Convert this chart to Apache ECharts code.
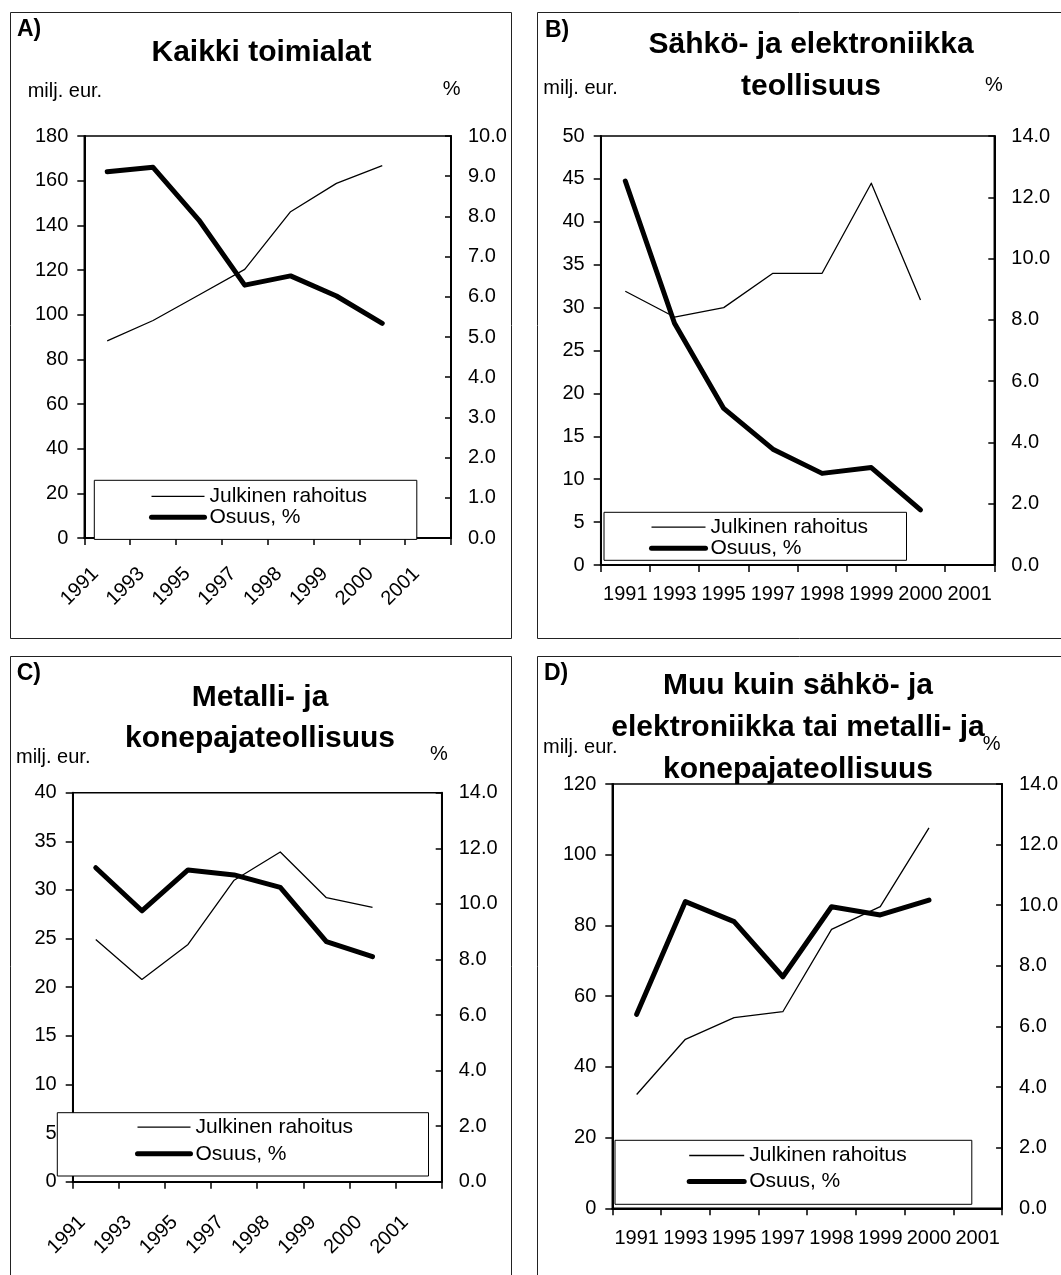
<!DOCTYPE html>
<html><head><meta charset="utf-8">
<script src="https://cdn.jsdelivr.net/npm/echarts@6/dist/echarts.min.js"></script>
<style>html,body{margin:0;padding:0;background:#fff}#c{width:1061px;height:1275px}</style>
</head><body><div id="c"></div>
<script>
// ---- data ----
const categories = ['1991', '1993', '1995', '1997', '1998', '1999', '2000', '2001'];
const seriesNames = ['Julkinen rahoitus', 'Osuus, %'];

const A_rahoitus = [88.3, 97.4, 108.8, 120.3, 146.1, 158.8, 166.7];
const A_osuus    = [9.11, 9.22, 7.91, 6.29, 6.52, 6.02, 5.34];

const B_rahoitus = [31.9, 28.9, 30.0, 34.0, 34.0, 44.5, 30.9];
const B_osuus    = [12.53, 7.89, 5.11, 3.78, 2.99, 3.18, 1.80];

const C_rahoitus = [24.9, 20.8, 24.4, 31.0, 33.9, 29.2, 28.2];
const C_osuus    = [11.30, 9.75, 11.22, 11.04, 10.59, 8.64, 8.10];

const D_rahoitus = [32.2, 47.8, 53.9, 55.6, 78.9, 85.3, 107.6];
const D_osuus    = [6.40, 10.12, 9.46, 7.64, 9.95, 9.68, 10.17];

const titleA = ['Kaikki toimialat'];
const titleB = ['Sähkö- ja elektroniikka', 'teollisuus'];
const titleC = ['Metalli- ja', 'konepajateollisuus'];
const titleD = ['Muu kuin sähkö- ja', 'elektroniikka tai metalli- ja', 'konepajateollisuus'];
const unitLeft = 'milj. eur.';
const unitRight = '%';

// ---- layout ----
const FF = '"Liberation Sans", Arial, Helvetica, sans-serif';
const panels = [
  { letter: 'A)', title: titleA, rah: A_rahoitus, os: A_osuus,
    box: [10, 12, 501, 626], grid: { left: 84.3, top: 136, width: 366.7, height: 402 },
    yl: { max: 180, interval: 20 }, yr: { max: 10, interval: 1 },
    rotate: true, xMargin: 21, xPad: 16.5,
    legend: { box: [94.3, 480.3, 414.3, 534], lineStart: 149, itemWidth: 53, row1: 495, row2: 513.3 },
    letterPos: [17, 30], titleX: 261.5, titleY: [52.5],
    unitL: [27.7, 91], unitR: [442.7, 89.7] },
  { letter: 'B)', title: titleB, rah: B_rahoitus, os: B_osuus,
    box: [537, 12, 600, 626], grid: { left: 600.7, top: 136, width: 393.6, height: 429 },
    yl: { max: 50, interval: 5 }, yr: { max: 14, interval: 2 },
    rotate: false, xMargin: 19,
    legend: { box: [604, 512.3, 904, 558.3], lineStart: 649, itemWidth: 54, row1: 526.7, row2: 546.7 },
    letterPos: [545, 30.5], titleX: 811, titleY: [44.3, 87],
    unitL: [543.3, 88], unitR: [985, 85.7] },
  { letter: 'C)', title: titleC, rah: C_rahoitus, os: C_osuus,
    box: [10, 656, 501, 700], grid: { left: 72.7, top: 792.7, width: 369, height: 389 },
    yl: { max: 40, interval: 5 }, yr: { max: 14, interval: 2 },
    rotate: true, xMargin: 24, xPad: 19,
    legend: { box: [57.3, 1112.7, 426, 1174], lineStart: 135, itemWidth: 53, row1: 1126.7, row2: 1152.3 },
    letterPos: [16.7, 674], titleX: 260, titleY: [697.5, 739],
    unitL: [16, 757.5], unitR: [430, 754] },
  { letter: 'D)', title: titleD, rah: D_rahoitus, os: D_osuus,
    box: [537, 656, 600, 700], grid: { left: 612.3, top: 784, width: 391.4, height: 424.3 },
    yl: { max: 120, interval: 20 }, yr: { max: 14, interval: 2 },
    rotate: false, xMargin: 20.5,
    legend: { box: [615, 1140.3, 969.3, 1202.3], lineStart: 686.7, itemWidth: 55, row1: 1155, row2: 1180 },
    letterPos: [544, 673.5], titleX: 798, titleY: [685.5, 727.5, 769.5],
    unitL: [543, 747], unitR: [982.7, 744] }
];

const measureCtx = document.createElement('canvas').getContext('2d');
function textWidth(t, font) { measureCtx.font = font; return measureCtx.measureText(t).width; }

const LEG_FS = 21;
const grids = [], xAxes = [], yAxes = [], series = [], legends = [], graphics = [];

panels.forEach((p, i) => {
  grids.push(Object.assign({ show: true, borderColor: '#000', borderWidth: 1.5, backgroundColor: 'transparent', containLabel: false }, p.grid));
  xAxes.push({
    type: 'category', gridIndex: i, data: categories, boundaryGap: true,
    axisLine: { show: true, onZero: false, lineStyle: { color: '#000', width: 2 } },
    axisTick: { show: true, inside: false, length: 7, lineStyle: { color: '#000', width: 1.5 } },
    axisLabel: Object.assign({ interval: 0, hideOverlap: false, color: '#000', fontFamily: FF, fontSize: 20, margin: p.xMargin },
      p.rotate ? { rotate: 45, padding: [0, p.xPad, 0, 0] } : {}),
    splitLine: { show: false }
  });
  yAxes.push({
    type: 'value', gridIndex: i, position: 'left', min: 0, max: p.yl.max, interval: p.yl.interval,
    axisLine: { show: true, lineStyle: { color: '#000', width: 2 } },
    axisTick: { show: true, inside: false, length: 7, lineStyle: { color: '#000', width: 1.5 } },
    axisLabel: { color: '#000', fontFamily: FF, fontSize: 20, margin: 16 },
    splitLine: { show: false }
  });
  yAxes.push({
    type: 'value', gridIndex: i, position: 'right', min: 0, max: p.yr.max, interval: p.yr.interval,
    axisLine: { show: true, lineStyle: { color: '#000', width: 2 } },
    axisTick: { show: true, inside: true, length: 6, lineStyle: { color: '#000', width: 1.5 } },
    axisLabel: { color: '#000', fontFamily: FF, fontSize: 20, margin: 17, formatter: v => v.toFixed(1) },
    splitLine: { show: false }
  });
  series.push({
    type: 'line', name: seriesNames[0], xAxisIndex: i, yAxisIndex: 2 * i, data: p.rah,
    symbol: 'none', silent: true, z: 2,
    lineStyle: { color: '#000', width: 1.3, join: 'round' }, itemStyle: { color: '#000' }
  });
  series.push({
    type: 'line', name: seriesNames[1], xAxisIndex: i, yAxisIndex: 2 * i + 1, data: p.os,
    symbol: 'none', silent: true, z: 3,
    lineStyle: { color: '#000', width: 5, cap: 'round', join: 'round' }, itemStyle: { color: '#000' }
  });

  // legend box
  const L = p.legend;
  const spacing = L.row2 - L.row1;
  const lh = Math.min(20, spacing);
  const gap = spacing - lh;
  const [bx0, by0, bx1, by1] = L.box;
  const padTop = L.row1 - lh / 2 - by0;
  const padBottom = by1 - (L.row2 + lh / 2);
  const padLeft = L.lineStart - bx0;
  const tw = Math.max(textWidth(seriesNames[0], LEG_FS + 'px "Liberation Sans"'), textWidth(seriesNames[1], LEG_FS + 'px "Liberation Sans"'));
  const padRight = bx1 - (L.lineStart + L.itemWidth + 5 + tw);
  legends.push({
    show: true, orient: 'vertical', left: bx0, top: by0,
    padding: [padTop, padRight, padBottom, padLeft],
    itemGap: gap, itemWidth: L.itemWidth, itemHeight: lh,
    backgroundColor: '#fff', borderColor: '#000', borderWidth: 1,
    selectedMode: false, z: 10,
    itemStyle: { opacity: 0 },
    textStyle: { color: '#000', fontFamily: FF, fontSize: LEG_FS, lineHeight: lh },
    data: [
      { name: seriesNames[0], lineStyle: { width: 1.3, color: '#000' } },
      { name: seriesNames[1], lineStyle: { width: 5, color: '#000', cap: 'round' } }
    ]
  });

  // panel frame
  graphics.push({ type: 'rect', z: 0, silent: true,
    shape: { x: p.box[0] + 0.5, y: p.box[1] + 0.5, width: p.box[2], height: p.box[3] },
    style: { fill: 'none', stroke: '#222', lineWidth: 1 } });
  // panel letter
  graphics.push({ type: 'text', z: 20, silent: true, x: p.letterPos[0], y: p.letterPos[1],
    style: { text: p.letter, font: 'bold 23px ' + FF, fill: '#000', align: 'left', verticalAlign: 'middle' } });
  // title lines
  p.title.forEach((t, k) => {
    graphics.push({ type: 'text', z: 20, silent: true, x: p.titleX, y: p.titleY[k],
      style: { text: t, font: 'bold 30px ' + FF, fill: '#000', align: 'center', verticalAlign: 'middle' } });
  });
  // unit labels
  graphics.push({ type: 'text', z: 19, silent: true, x: p.unitL[0], y: p.unitL[1],
    style: { text: unitLeft, font: '20px ' + FF, fill: '#000', align: 'left', verticalAlign: 'middle' } });
  graphics.push({ type: 'text', z: 19, silent: true, x: p.unitR[0], y: p.unitR[1],
    style: { text: unitRight, font: '20px ' + FF, fill: '#000', align: 'left', verticalAlign: 'middle' } });
});

const chart = echarts.init(document.getElementById('c'), null, { renderer: 'canvas' });
chart.setOption({
  backgroundColor: '#fff',
  animation: false,
  grid: grids, xAxis: xAxes, yAxis: yAxes, series: series,
  legend: legends,
  graphic: { elements: graphics }
});
</script></body></html>
